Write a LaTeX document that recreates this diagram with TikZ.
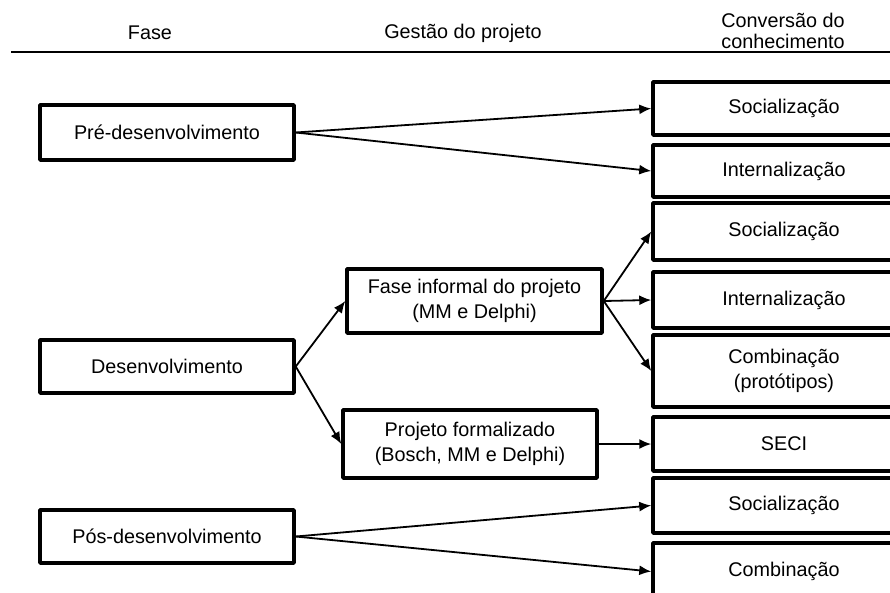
\documentclass[tikz,border=0pt]{standalone}
\usepackage{fontspec}
\setmainfont{Liberation Sans}
\usetikzlibrary{positioning,arrows.meta}

\begin{document}
\begin{tikzpicture}[x=1pt, y=-1pt,
    box/.style={rectangle, draw, line width=3.5pt, line join=round, inner sep=0pt, align=center,
                font=\fontsize{19.8}{25}\selectfont},
    fase/.style={box, minimum width=254pt},
    conv/.style={box, minimum width=262pt},
    seta/.style={-{Latex[length=12pt,width=10pt]}, line width=1.8pt}]
    \useasboundingbox (0,0) rectangle (890,592);

    % cabecalho
    \node [font=\fontsize{19.8}{21}\selectfont] (hfase) at (150,33) {Fase};
    \node [font=\fontsize{19.8}{21}\selectfont] (hgest) at (463,33) {Gestão do projeto};
    \node [font=\fontsize{19.8}{21}\selectfont, align=center] (hconv) at (783,31) {Conversão do\\conhecimento};
    \coordinate (l0) at (11,52);
    \coordinate (l1) at (890,52);
    \draw [line width=1.8pt] (l0) -- (l1);

    % fases
    \node [fase, minimum height=55pt] (pre) at (167,132.5) {Pré-desenvolvimento};
    \node [fase, minimum height=53pt] (des) at (167,366.5) {Desenvolvimento};
    \node [fase, minimum height=53pt] (pos) at (167,536.5) {Pós-desenvolvimento};

    % gestao do projeto
    \node [box, minimum width=255pt, minimum height=64pt] (inf) at (474.5,301) {Fase informal do projeto\\(MM e Delphi)};
    \node [box, minimum width=254pt, minimum height=68pt] (form) at (470,444) {Projeto formalizado\\(Bosch, MM e Delphi)};

    % conversao do conhecimento
    \node [conv, minimum height=53pt] (soc1) at (784,108.5) {Socialização};
    \node [conv, minimum height=52pt] (int1) at (784,171) {Internalização};
    \node [conv, minimum height=57pt] (soc2) at (784,231.5) {Socialização};
    \node [conv, minimum height=56pt] (int2) at (784,300) {Internalização};
    \node [conv, minimum height=72pt] (comb1) at (784,371) {Combinação\\(protótipos)};
    \node [conv, minimum height=54pt] (seci) at (784,444) {SECI};
    \node [conv, minimum height=55pt] (soc3) at (784,505.5) {Socialização};
    \node [conv, minimum height=57pt] (comb2) at (784,571.5) {Combinação};

    \draw [seta] (pre.east) -- (soc1.west);
    \draw [seta] (pre.east) -- (int1.west);
    \draw [seta] (des.east) -- (inf.west);
    \draw [seta] (des.east) -- (form.west);
    \draw [seta] (inf.east) -- (soc2.west);
    \draw [seta] (inf.east) -- (int2.west);
    \draw [seta] (inf.east) -- (comb1.west);
    \draw [seta] (form.east) -- (seci.west);
    \draw [seta] (pos.east) -- (soc3.west);
    \draw [seta] (pos.east) -- (comb2.west);
\end{tikzpicture}
\end{document}
